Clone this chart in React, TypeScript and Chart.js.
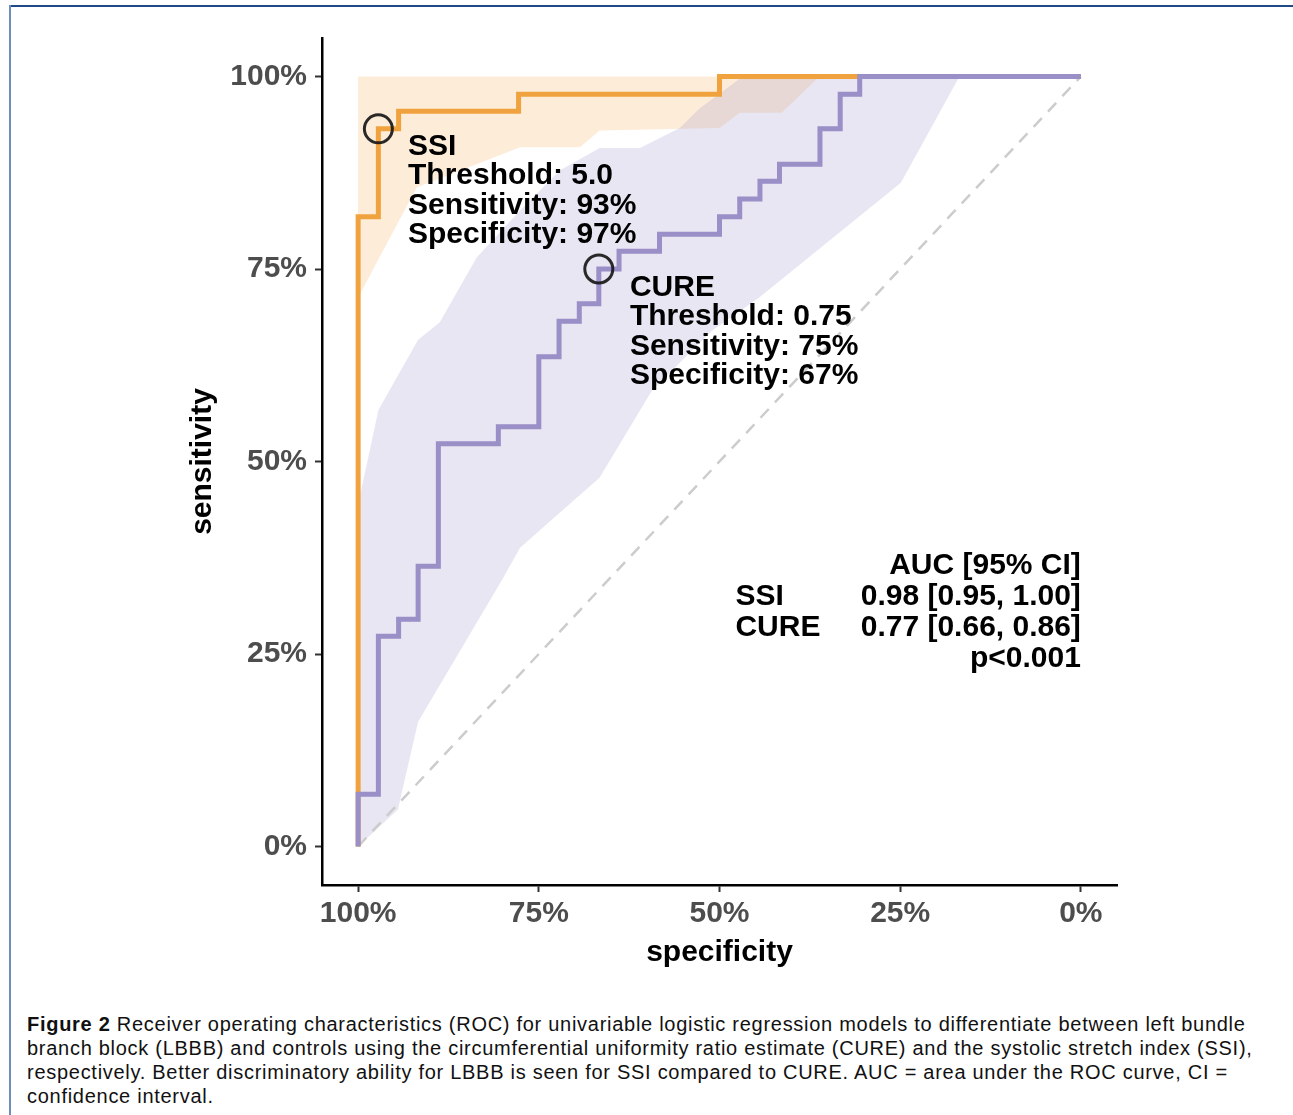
import React, { useEffect, useRef } from 'react';
import { Chart, registerables } from 'chart.js';

Chart.register(...registerables);

// ROC curve vertices (specificity, sensitivity)
const ssiSpec = [1, 1, 0.972, 0.972, 0.944, 0.944, 0.778, 0.778, 0.5, 0.5, 0];
const ssiSens = [0, 0.818, 0.818, 0.932, 0.932, 0.955, 0.955, 0.977, 0.977, 1, 1];

const cureSpec = [1, 1, 0.972, 0.972, 0.944, 0.944, 0.917, 0.917, 0.889, 0.889, 0.806, 0.806, 0.75, 0.75, 0.722, 0.722, 0.694, 0.694, 0.667, 0.667, 0.639, 0.639, 0.583, 0.583, 0.5, 0.5, 0.472, 0.472, 0.444, 0.444, 0.417, 0.417, 0.361, 0.361, 0.333, 0.333, 0.306, 0.306, 0];
const cureSens = [0, 0.068, 0.068, 0.273, 0.273, 0.295, 0.295, 0.364, 0.364, 0.523, 0.523, 0.545, 0.545, 0.636, 0.636, 0.682, 0.682, 0.705, 0.705, 0.75, 0.75, 0.773, 0.773, 0.795, 0.795, 0.818, 0.818, 0.841, 0.841, 0.864, 0.864, 0.886, 0.886, 0.932, 0.932, 0.977, 0.977, 1, 1];

// 95% CI bands of sensitivity
const ssiBandUpperSpec = [1, 0];
const ssiBandUpperSens = [1, 1];
const ssiBandLowerSpec = [1, 0.919, 0.776, 0.693, 0.666, 0.5, 0.472, 0.414, 0.365, 0.31, 0];
const ssiBandLowerSens = [0.713, 0.856, 0.908, 0.908, 0.93, 0.933, 0.953, 0.953, 0.997, 1, 1];

const cureBandUpperSpec = [1, 0.972, 0.917, 0.887, 0.836, 0.776, 0.721, 0.666, 0.61, 0.555, 0.528, 0.472, 0.168];
const cureBandUpperSens = [0.444, 0.567, 0.658, 0.681, 0.765, 0.826, 0.878, 0.907, 0.907, 0.933, 0.958, 0.997, 1];
const cureBandLowerSpec = [1, 0.945, 0.917, 0.801, 0.776, 0.666, 0.593, 0.51, 0.445, 0.249, 0.168];
const cureBandLowerSens = [0, 0.048, 0.162, 0.346, 0.388, 0.479, 0.593, 0.67, 0.713, 0.862, 1];

// Best thresholds
const bestSpec = [0.972, 0.667];
const bestSens = [0.932, 0.75];

const ssiLabel = ['SSI', 'Threshold: 5.0', 'Sensitivity: 93%', 'Specificity: 97%'];
const cureLabel = ['CURE', 'Threshold: 0.75', 'Sensitivity: 75%', 'Specificity: 67%'];
const aucHeader = 'AUC [95% CI]';
const aucNames = ['SSI', 'CURE'];
const aucValues = ['0.98 [0.95, 1.00]', '0.77 [0.66, 0.86]'];
const pValueText = 'p<0.001';

const tickValues = [0, 0.25, 0.5, 0.75, 1];
const xTickLabels = ['0%', '25%', '50%', '75%', '100%'];
const yTickLabels = ['0%', '25%', '50%', '75%', '100%'];

const FONT = '"Liberation Sans", Arial, Helvetica, sans-serif';
const ORANGE = '#F0A23E';
const PURPLE = '#9A8FC7';

const pts = (xs: number[], ys: number[]) => xs.map((x, i) => ({ x, y: ys[i] }));
const polygon = (ux: number[], uy: number[], lx: number[], ly: number[]) =>
  pts(ux, uy).concat(pts(lx, ly).reverse());

const annotPlugin = {
  id: 'annot',
  afterDatasetsDraw(chart: any) {
    const { ctx, scales } = chart;
    const x = scales.x;
    const y = scales.y;
    ctx.save();
    ctx.font = `bold 30px ${FONT}`;
    ctx.fillStyle = '#000';
    ctx.textBaseline = 'middle';
    const lh = 29.4;
    ctx.textAlign = 'left';
    const sx = x.getPixelForValue(0.931);
    const sy = y.getPixelForValue(0.909);
    ssiLabel.forEach((t, i) => ctx.fillText(t, sx, sy + i * lh));
    const cx = x.getPixelForValue(0.624);
    const cy = y.getPixelForValue(0.726);
    cureLabel.forEach((t, i) => ctx.fillText(t, cx, cy + i * lh));

    const right = x.getPixelForValue(0);
    const left = x.getPixelForValue(0.478);
    const ty = y.getPixelForValue(0.365);
    const rh = 31;
    ctx.textAlign = 'right';
    ctx.fillText(aucHeader, right, ty);
    aucValues.forEach((t, i) => ctx.fillText(t, right, ty + (i + 1) * rh));
    ctx.fillText(pValueText, right, ty + 3 * rh);
    ctx.textAlign = 'left';
    aucNames.forEach((t, i) => ctx.fillText(t, left, ty + (i + 1) * rh));
    ctx.restore();
  },
};

function ROCChart() {
  const ref = useRef<HTMLCanvasElement | null>(null);
  useEffect(() => {
    if (!ref.current) return;
    const tickFont = { family: FONT, size: 30, weight: 'bold' as const };
    const chart = new Chart(ref.current, {
      type: 'scatter',
      data: {
        datasets: [
          {
            data: pts(bestSpec, bestSens),
            showLine: false,
            pointRadius: 14,
            pointBorderWidth: 3,
            pointBorderColor: 'rgba(20,20,20,0.9)',
            pointBackgroundColor: 'rgba(0,0,0,0)',
            order: 0,
          },
          {
            data: pts(cureSpec, cureSens),
            showLine: true,
            borderColor: PURPLE,
            borderWidth: 5,
            pointRadius: 0,
            fill: false,
            order: 1,
          },
          {
            data: pts(ssiSpec, ssiSens),
            showLine: true,
            borderColor: ORANGE,
            borderWidth: 5,
            pointRadius: 0,
            fill: false,
            order: 2,
          },
          {
            data: [{ x: 1, y: 0 }, { x: 0, y: 1 }],
            showLine: true,
            borderColor: '#CCCCCC',
            borderWidth: 2.5,
            borderDash: [12, 9],
            pointRadius: 0,
            fill: false,
            order: 3,
          },
          {
            data: polygon(cureBandUpperSpec, cureBandUpperSens, cureBandLowerSpec, cureBandLowerSens),
            showLine: true,
            borderWidth: 0,
            borderColor: 'rgba(0,0,0,0)',
            backgroundColor: 'rgba(154,143,199,0.22)',
            pointRadius: 0,
            fill: 'shape',
            order: 4,
          },
          {
            data: polygon(ssiBandUpperSpec, ssiBandUpperSens, ssiBandLowerSpec, ssiBandLowerSens),
            showLine: true,
            borderWidth: 0,
            borderColor: 'rgba(0,0,0,0)',
            backgroundColor: 'rgba(240,162,62,0.2)',
            pointRadius: 0,
            fill: 'shape',
            order: 5,
          },
        ],
      },
      options: {
        animation: false,
        responsive: false,
        maintainAspectRatio: false,
        layout: { padding: { left: 0, top: 38, right: 176, bottom: 0 } },
        plugins: { legend: { display: false }, tooltip: { enabled: false } },
        scales: {
          x: {
            type: 'linear',
            reverse: true,
            min: -0.05,
            max: 1.05,
            afterBuildTicks: (s: any) => { s.ticks = tickValues.map((v) => ({ value: v })); },
            afterFit: (s: any) => { s.height = 105; s.paddingLeft = 0; s.paddingRight = 0; },
            ticks: {
              callback: (v: any) => xTickLabels[tickValues.indexOf(Number(v))] ?? '',
              color: '#4D4D4D',
              font: tickFont,
              padding: 4,
              maxRotation: 0,
              autoSkip: false,
            },
            grid: { display: true, drawOnChartArea: false, drawTicks: true, tickLength: 7, tickWidth: 2, tickColor: '#333333', color: '#333333' },
            border: { display: true, color: '#000', width: 2.5 },
            title: { display: true, text: 'specificity', color: '#000', font: tickFont, padding: { top: 0, bottom: 19 } },
          },
          y: {
            type: 'linear',
            min: -0.05,
            max: 1.05,
            afterBuildTicks: (s: any) => { s.ticks = tickValues.map((v) => ({ value: v })); },
            afterFit: (s: any) => { s.width = 322; s.paddingTop = 0; s.paddingBottom = 0; },
            ticks: {
              callback: (v: any) => yTickLabels[tickValues.indexOf(Number(v))] ?? '',
              color: '#4D4D4D',
              font: tickFont,
              padding: 8,
              autoSkip: false,
            },
            grid: { display: true, drawOnChartArea: false, drawTicks: true, tickLength: 7, tickWidth: 2, tickColor: '#333333', color: '#333333' },
            border: { display: true, color: '#000', width: 2.5 },
            title: { display: true, text: 'sensitivity', color: '#000', font: tickFont, padding: { top: 185, bottom: 0 } },
          },
        },
      },
      plugins: [annotPlugin],
    } as any);
    return () => chart.destroy();
  }, []);
  return <canvas ref={ref} width={1293} height={990} style={{ position: 'absolute', left: 0, top: 0 }} />;
}

export default function App() {
  const capStyle: React.CSSProperties = {
    position: 'absolute',
    left: 27,
    top: 1012,
    fontFamily: FONT,
    fontSize: 20,
    letterSpacing: '0.72px',
    lineHeight: '24px',
    color: '#111',
    whiteSpace: 'nowrap',
  };
  return (
    <div style={{ position: 'absolute', left: 0, top: 0, width: 1293, height: 1115, background: '#fff', overflow: 'hidden' }}>
      <div style={{ position: 'absolute', left: 9, top: 5, width: 1284, height: 2, background: '#1F4A86' }} />
      <div style={{ position: 'absolute', left: 9, top: 5, width: 2, height: 1110, background: '#6F8DB8' }} />
      <ROCChart />
      <div style={capStyle}>
        <b>Figure 2</b> Receiver operating characteristics (ROC) for univariable logistic regression models to differentiate between left bundle<br />
        branch block (LBBB) and controls using the circumferential uniformity ratio estimate (CURE) and the systolic stretch index (SSI),<br />
        respectively. Better discriminatory ability for LBBB is seen for SSI compared to CURE. AUC = area under the ROC curve, CI =<br />
        confidence interval.
      </div>
    </div>
  );
}
